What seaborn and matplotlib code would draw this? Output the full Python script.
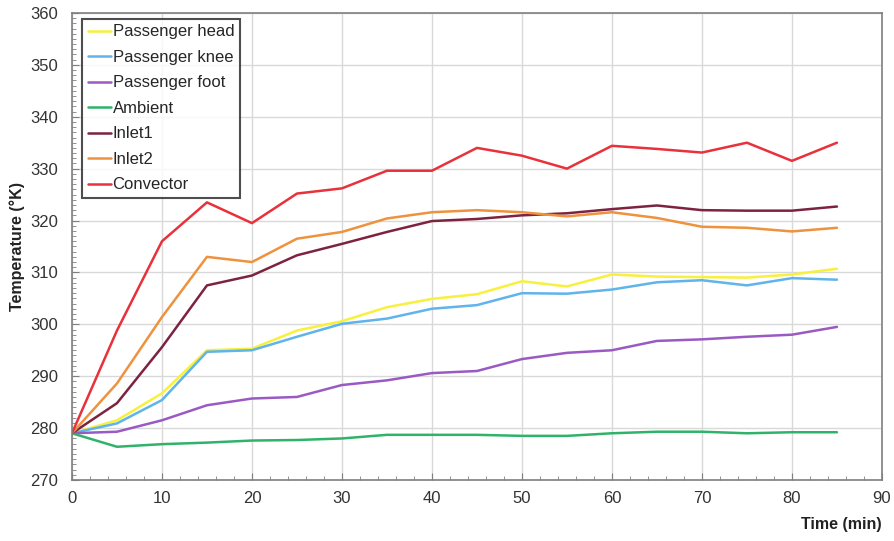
import matplotlib
matplotlib.use("Agg")
import matplotlib.pyplot as plt
from matplotlib.ticker import MultipleLocator
import seaborn as sns
import pandas as pd

time_min = [0, 5, 10, 15, 20, 25, 30, 35, 40, 45, 50, 55, 60, 65, 70, 75, 80, 85]

passenger_head = [279, 281.5, 286.7, 295.0, 295.3, 298.8, 300.6, 303.3, 304.9, 305.8,
                  308.3, 307.3, 309.6, 309.2, 309.1, 309.0, 309.6, 310.7]
passenger_knee = [279, 280.9, 285.4, 294.7, 295.0, 297.6, 300.1, 301.1, 303.0, 303.7,
                  306.0, 305.9, 306.7, 308.1, 308.5, 307.5, 308.9, 308.6]
passenger_foot = [279, 279.3, 281.5, 284.4, 285.7, 286.0, 288.3, 289.2, 290.6, 291.0,
                  293.3, 294.5, 295.0, 296.8, 297.1, 297.6, 298.0, 299.5]
ambient = [279, 276.4, 276.9, 277.2, 277.6, 277.7, 278.0, 278.7, 278.7, 278.7,
           278.5, 278.5, 279.0, 279.3, 279.3, 279.0, 279.2, 279.2]
inlet1 = [279, 284.8, 295.6, 307.5, 309.4, 313.3, 315.5, 317.8, 319.9, 320.3,
          321.0, 321.4, 322.2, 322.9, 322.0, 321.9, 321.9, 322.7]
inlet2 = [279, 288.6, 301.4, 313.0, 312.0, 316.5, 317.8, 320.4, 321.6, 322.0,
          321.6, 320.8, 321.6, 320.5, 318.8, 318.6, 317.9, 318.6]
convector = [279, 298.8, 316.0, 323.5, 319.5, 325.2, 326.2, 329.6, 329.6, 334.0,
             332.5, 330.0, 334.4, 333.8, 333.1, 335.0, 331.5, 335.0]

series_names = ["Passenger head", "Passenger knee", "Passenger foot", "Ambient",
                "Inlet1", "Inlet2", "Convector"]
series_values = [passenger_head, passenger_knee, passenger_foot, ambient,
                 inlet1, inlet2, convector]
series_colors = ["#f7f03c", "#5fb4ec", "#9a5ac4", "#2fb36a",
                 "#7d2340", "#ee923e", "#e8313b"]

rows = []
for name, vals in zip(series_names, series_values):
    for t, v in zip(time_min, vals):
        rows.append({"Time": t, "Temperature": v, "Series": name})
df = pd.DataFrame(rows)

sns.set_style("white")
plt.rcParams["font.family"] = ["Liberation Sans", "DejaVu Sans"]

fig = plt.figure(figsize=(8.94, 5.41), dpi=100)
ax = fig.add_axes([0.0805, 0.1128, 0.906, 0.8632])

sns.lineplot(data=df, x="Time", y="Temperature", hue="Series",
             hue_order=series_names, palette=series_colors,
             linewidth=1.8, ax=ax, legend=True)

ax.set_xlim(0, 90)
ax.set_ylim(270, 360)
ax.xaxis.set_major_locator(MultipleLocator(10))
ax.xaxis.set_minor_locator(MultipleLocator(2))
ax.yaxis.set_major_locator(MultipleLocator(10))
ax.yaxis.set_minor_locator(MultipleLocator(1))

ax.grid(True, which="major", color="#d9d9d9", linewidth=1.0)
ax.set_axisbelow(True)
for sp in ax.spines.values():
    sp.set_color("#7f7f7f")
    sp.set_linewidth(1.2)
    sp.set_visible(True)

ax.tick_params(axis="both", which="major", direction="in", length=5,
               color="#7f7f7f", labelsize=12, labelcolor="#333333",
               bottom=True, left=True, top=False, right=False)
ax.tick_params(axis="both", which="minor", direction="in", length=3,
               color="#7f7f7f", bottom=True, left=True, top=False, right=False)
ax.tick_params(axis="x", which="major", pad=8)
ax.tick_params(axis="y", which="major", pad=10)

ax.set_xlabel("Time (min)", fontsize=11.5, fontweight="bold", color="#222222")
ax.xaxis.set_label_coords(1.0, -0.08)
ax.xaxis.label.set_horizontalalignment("right")
ax.set_ylabel("Temperature (°K)", fontsize=11.5, fontweight="bold", color="#222222")
ax.yaxis.set_label_coords(-0.058, 0.5)

leg = ax.legend(loc="upper left", bbox_to_anchor=(0.012, 0.988), frameon=True,
                fancybox=False, edgecolor="#222222", fontsize=12,
                handlelength=1.4, handletextpad=0.1, labelspacing=0.63,
                borderpad=0.35, borderaxespad=0.0)
leg.get_frame().set_linewidth(1.5)
for line in leg.get_lines():
    line.set_linewidth(1.8)

fig.savefig("out.png", dpi=100)
